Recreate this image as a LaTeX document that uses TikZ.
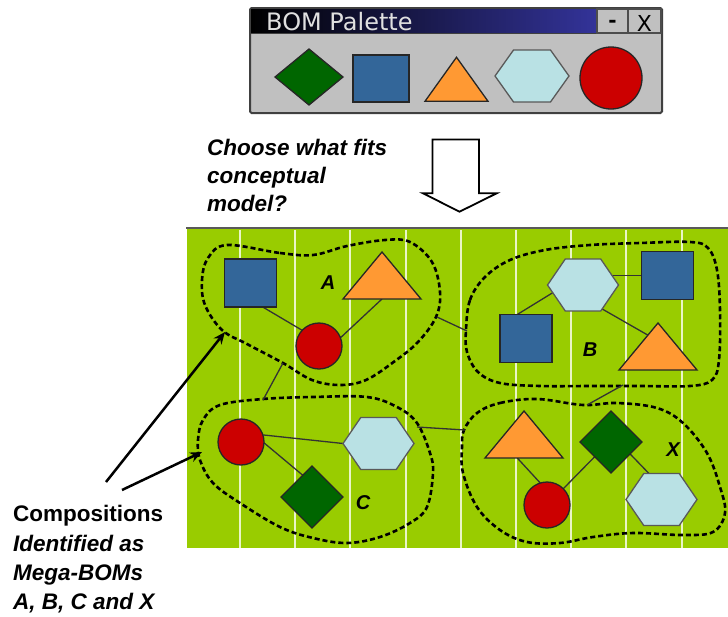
\documentclass[tikz,border=0pt]{standalone}
\usepackage{fontspec}
\setmainfont{Liberation Sans}
\newfontfamily\winfont{DejaVu Sans}
\usetikzlibrary{shapes.geometric,arrows.meta,calc}
\definecolor{fieldgreen}{HTML}{99CC00}
\definecolor{stripe}{HTML}{EAF5C8}
\definecolor{sqblue}{HTML}{336699}
\definecolor{cred}{HTML}{CC0000}
\definecolor{dgreen}{HTML}{006600}
\definecolor{torange}{HTML}{FF9933}
\definecolor{hcyan}{HTML}{B9E1E4}
\definecolor{wingray}{HTML}{C0C0C0}
\definecolor{titleblue}{HTML}{333399}
\pgfdeclarelayer{ground}
\pgfdeclarelayer{links}
\pgfsetlayers{ground,links,main}
\begin{document}
\begin{tikzpicture}[x=1pt,y=-1pt,
  shp/.style={draw=black!85, line width=1.3pt, inner sep=0pt, outer sep=0pt},
  sq/.style={shp, rectangle, fill=sqblue, minimum width=52pt, minimum height=48pt},
  crc/.style={shp, circle, fill=cred, minimum size=46pt},
  dia/.style={shp, diamond, fill=dgreen, minimum width=62pt, minimum height=62pt},
  tri/.style={shp, regular polygon, regular polygon sides=3, fill=torange, minimum size=62.67pt, xscale=#1},
  tri/.default=1.437,
  hex/.style={shp, draw=black!65, regular polygon, regular polygon sides=6, fill=hcyan, minimum size=60pt, xscale=#1},
  hex/.default=1.183,
  link/.style={draw=black!80, line width=1.3pt},
  blob/.style={draw=black, line width=2.6pt, dash pattern=on 5pt off 3pt},
  pointer/.style={draw=black, line width=2.5pt, -{Stealth[length=12pt,width=10pt]}},
  tag/.style={font=\fontsize{20}{20}\selectfont\bfseries\itshape, inner sep=0pt},
  say/.style={anchor=base west, inner sep=0pt, font=\fontsize{22.5}{22.5}\selectfont\bfseries\itshape},
  btn/.style={draw=black!70, line width=1.2pt, fill=wingray}
]
\useasboundingbox (0,0) rectangle (728,616);

% ---------- palette window ----------
\draw[draw=black!75, line width=2pt, fill=wingray, rounded corners=1.5pt] (250,8) rectangle (662,113);
\shade[left color=black, right color=titleblue] (251,9) rectangle (597,33);
\draw[black!75, line width=1.2pt] (251,33.5) -- (661,33.5);
\draw[btn] (597,9) rectangle (628,33);
\draw[btn] (628,9) rectangle (661,33);
\node[anchor=base west, inner sep=0pt, text=black!12, font=\winfont\fontsize{24}{24}\selectfont] (title) at (266,30.5) {BOM Palette};
\node[inner sep=0pt, font=\winfont\fontsize{20}{20}\selectfont\bfseries] (minbtn) at (612.5,24) {-};
\node[inner sep=0pt, font=\winfont\fontsize{22}{22}\selectfont] (closebtn) at (644.5,23) {X};

\node[dia, minimum width=68pt, minimum height=56pt] (pdia) at (309,77) {};
\node[sq, minimum width=56pt, minimum height=47pt] (psq) at (381,78.5) {};
\node[tri=1.24, minimum size=58.67pt] (ptri) at (456.5,86.6) {};
\node[hex=1.233] (phex) at (532,76) {};
\node[crc, minimum size=62pt] (pcir) at (611,78) {};

% ---------- question and arrow ----------
\node[say] (q1) at (207,155) {Choose what fits};
\node[say] (q2) at (207,183.3) {conceptual};
\node[say] (q3) at (207,211.7) {model?};
\draw[line width=1.8pt, fill=white, line join=miter]
  (432.5,139.5) -- (479,139.5) -- (479,193.3) -- (496.7,193.3) -- (459.5,211.7)
  -- (423,193.3) -- (432.5,193.3) -- cycle;

% ---------- field ----------
\begin{pgfonlayer}{ground}
\fill[fieldgreen] (187,229) rectangle (728,548);
\foreach \x in {240,295,350,406,461,516,571,626,682}
  \draw[stripe, line width=2pt] (\x,230) -- (\x,548);
\draw[black!65, line width=2.5pt] (186,228) -- (728,228);
\end{pgfonlayer}

% composition A
\node[sq] (sqA) at (250.5,283) {};
\node[tri] (triA) at (382,283.3) {};
\node[crc] (cirA) at (319,346) {};
\node[tag] (labA) at (328,283) {A};
% composition B
\node[hex] (hexB) at (583,285) {};
\node[sq] (sqB1) at (667.5,275.5) {};
\node[sq] (sqB2) at (526,338.5) {};
\node[tri] (triB) at (658,354.3) {};
\node[tag] (labB) at (590,350) {B};
% composition C
\node[crc] (cirC) at (241,442) {};
\node[hex] (hexC) at (378.5,443.5) {};
\node[dia] (dmC) at (312,497) {};
\node[tag] (labC) at (363,503) {C};
% composition X
\node[tri] (triX) at (524,442.3) {};
\node[dia] (dmX) at (611,442) {};
\node[crc] (cirX) at (547,505) {};
\node[hex] (hexX) at (661.5,499.5) {};
\node[tag] (labX) at (673,450) {X};

\begin{pgfonlayer}{links}
\draw[link] (sqA.297) -- (cirA.137);
\draw[link] (cirA.21) -- (triA.south);
\draw[link] (hexB.center |- sqB1.west) -- (sqB1.west);
\draw[link] ($(hexB.west)!0.25!(hexB.east)$) -- (sqB2.110);
\draw[link] ($(hexB.center)!0.5!(hexB.south)$) -- ($(triB.north)!0.3!(triB.south west)$);
\draw[link] (cirC.18) -- (hexC.west);
\draw[link] (cirC.358) -- (dmC.113);
\draw[link] ($(triX.south)!0.3!(triX.south west)$) -- (cirX.107);
\draw[link] (cirX.45) -- (dmX.222);
\draw[link] (dmX.328) -- ($(hexX.north)!0.5!(hexX.center)$);
\end{pgfonlayer}

% outlines of the compositions
\draw[blob] plot[smooth cycle, tension=0.6] coordinates {
  (227,245) (280,253) (313,255) (347,246) (385,240) (410,242) (432,262)
  (440,292) (436,317) (418,342) (395,361) (366,380) (340,385) (312,380)
  (283,363) (247,344) (222,330) (205,305) (202,280) (208,258)};
\draw[blob] plot[smooth cycle, tension=0.6] coordinates {
  (466,330) (470,300) (485,277) (510,260) (545,250) (590,245) (640,243)
  (690,242) (708,248) (717,270) (720,310) (719,360) (712,380) (690,386)
  (640,386) (590,386) (540,386) (500,383) (478,372) (467,352)};
\draw[blob] plot[smooth cycle, tension=0.6] coordinates {
  (220,405) (263,399) (313,397) (367,397) (397,407) (417,423) (430,453)
  (433,473) (427,507) (410,523) (380,537) (347,543) (313,538) (280,527)
  (240,503) (213,483) (200,460) (198,440) (203,420)};
\draw[blob] plot[smooth cycle, tension=0.6] coordinates {
  (477,413) (500,403) (537,399) (583,405) (617,403) (657,408) (683,423)
  (707,453) (720,487) (725,513) (713,532) (683,535) (633,533) (593,537)
  (560,543) (527,542) (500,530) (477,507) (463,473) (462,447) (464,430)};

% links between compositions
\coordinate (jA1) at (437,317);
\coordinate (jB1) at (467,331);
\coordinate (jA2) at (283,363);
\coordinate (jC1) at (263,400);
\coordinate (jB2) at (623,385);
\coordinate (jX1) at (587,405);
\coordinate (jC2) at (417,427);
\coordinate (jX2) at (465,430);
\draw[link] (jA1) -- (jB1);
\draw[link] (jA2) -- (jC1);
\draw[link] (jB2) -- (jX1);
\draw[link] (jC2) -- (jX2);

% caption with pointers
\node[say, font=\fontsize{22.5}{22.5}\selectfont\bfseries] (c1) at (13,521) {Compositions};
\node[say] (c2) at (13,551) {Identified as};
\node[say] (c3) at (13,580) {Mega-BOMs};
\node[say] (c4) at (13,609) {A, B, C and X};
\coordinate (tail1) at (106,482);
\coordinate (tail2) at (122,490);
\coordinate (hitA) at (225,332);
\coordinate (hitC) at (202,452);
\draw[pointer] (tail1) -- (hitA);
\draw[pointer] (tail2) -- (hitC);
\end{tikzpicture}
\end{document}
